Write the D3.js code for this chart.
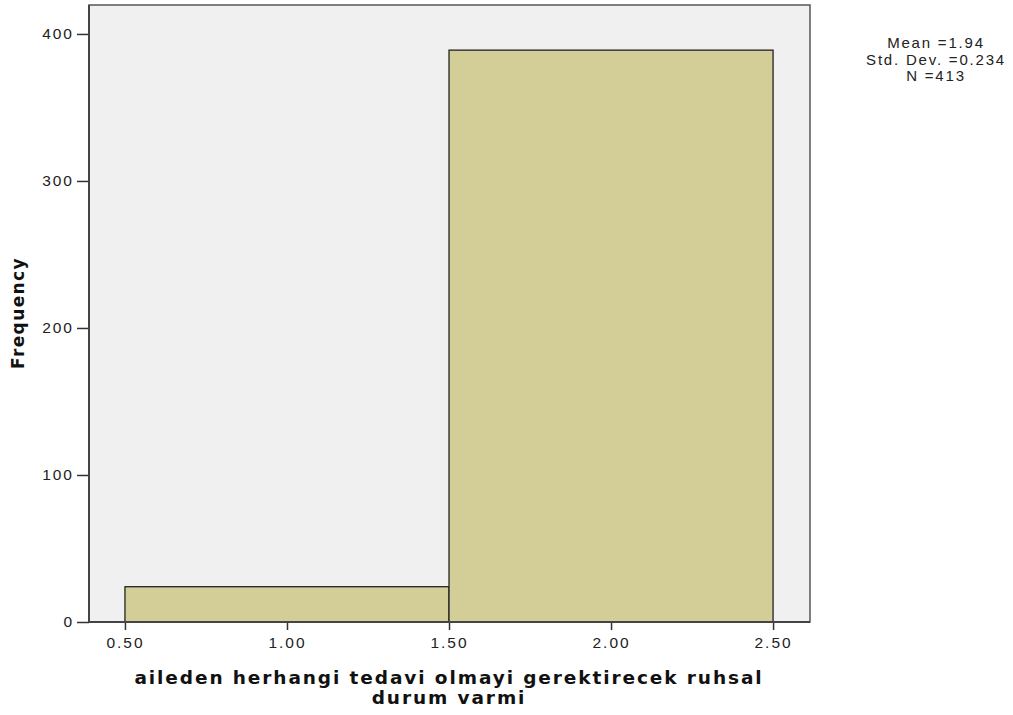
<!DOCTYPE html>
<html><head><meta charset="utf-8">
<script src="https://cdn.jsdelivr.net/npm/d3@7"></script>
<style>body{margin:0;background:#fff;}svg{display:block;font-family:"Liberation Sans",Arial,sans-serif;}</style>
</head><body>
<svg id="c" width="1013" height="715"></svg>
<script>
const binStarts = [0.5, 1.5];
const binEnds = [1.5, 2.5];
const frequencies = [24, 389];
const xTicks = [0.5, 1.0, 1.5, 2.0, 2.5];
const yTicks = [0, 100, 200, 300, 400];
const statsLines = ["Mean =1.94", "Std. Dev. =0.234", "N =413"];
const xTitle = ["aileden herhangi tedavi olmayi gerektirecek ruhsal", "durum varmi"];
const yTitle = "Frequency";

const svg = d3.select("#c");
const L = 89, R = 810, T = 5, B = 622;
const x = d3.scaleLinear().domain([0.389, 2.614]).range([L, R]);
const y = d3.scaleLinear().domain([0, 419.7]).range([B, T]);

svg.append("rect").attr("x", L).attr("y", T).attr("width", R - L).attr("height", B - T)
  .attr("fill", "#f0f0f0").attr("stroke", "#555").attr("stroke-width", 1.5);

svg.selectAll("rect.bar").data(frequencies).join("rect").attr("class", "bar")
  .attr("x", (d, i) => x(binStarts[i])).attr("width", (d, i) => x(binEnds[i]) - x(binStarts[i]))
  .attr("y", d => y(d)).attr("height", d => B - y(d))
  .attr("fill", "#d3ce97").attr("stroke", "#222").attr("stroke-width", 1.3);

const xa = svg.append("g").attr("transform", `translate(0,${B})`)
  .call(d3.axisBottom(x).tickValues(xTicks).tickFormat(d3.format(".2f")).tickSize(8).tickSizeOuter(0));
const ya = svg.append("g").attr("transform", `translate(${L},0)`)
  .call(d3.axisLeft(y).tickValues(yTicks).tickFormat(d3.format("d")).tickSize(12).tickSizeOuter(0));
[xa, ya].forEach(g => {
  g.select(".domain").remove();
  g.selectAll("line").attr("stroke", "#333").attr("stroke-width", 1.5);
  g.selectAll("text").attr("fill", "#222").attr("font-size", 15.5).attr("letter-spacing", 2)
    .attr("font-family", "'Liberation Sans',Arial,sans-serif");
});
xa.selectAll("text").attr("dy", "0.95em");
ya.selectAll("text").attr("x", -15);
svg.append("line").attr("x1", L).attr("x2", L).attr("y1", T).attr("y2", B).attr("stroke", "#444").attr("stroke-width", 2);
svg.append("line").attr("x1", L).attr("x2", R).attr("y1", B).attr("y2", B).attr("stroke", "#444").attr("stroke-width", 2);

svg.append("g").selectAll("text").data(xTitle).join("text")
  .attr("x", x(1.5)).attr("y", (d, i) => 684 + i * 20).attr("text-anchor", "middle")
  .attr("font-size", 18.5).attr("font-weight", "bold").attr("fill", "#111")
  .attr("font-family", "'DejaVu Sans',sans-serif")
  .attr("letter-spacing", 1.9).text(d => d);

svg.append("text").attr("transform", `translate(24,${313}) rotate(-90)`)
  .attr("text-anchor", "middle").attr("font-size", 17).attr("font-weight", "bold").attr("fill", "#111")
  .attr("font-family", "'DejaVu Sans',sans-serif").attr("letter-spacing", 1.4)
  .text(yTitle);

svg.append("g").selectAll("text").data(statsLines).join("text")
  .attr("x", 936).attr("y", (d, i) => 48 + i * 16.7).attr("text-anchor", "middle")
  .attr("font-size", 15).attr("letter-spacing", 1.8).attr("fill", "#222").text(d => d);
</script>
</body></html>
